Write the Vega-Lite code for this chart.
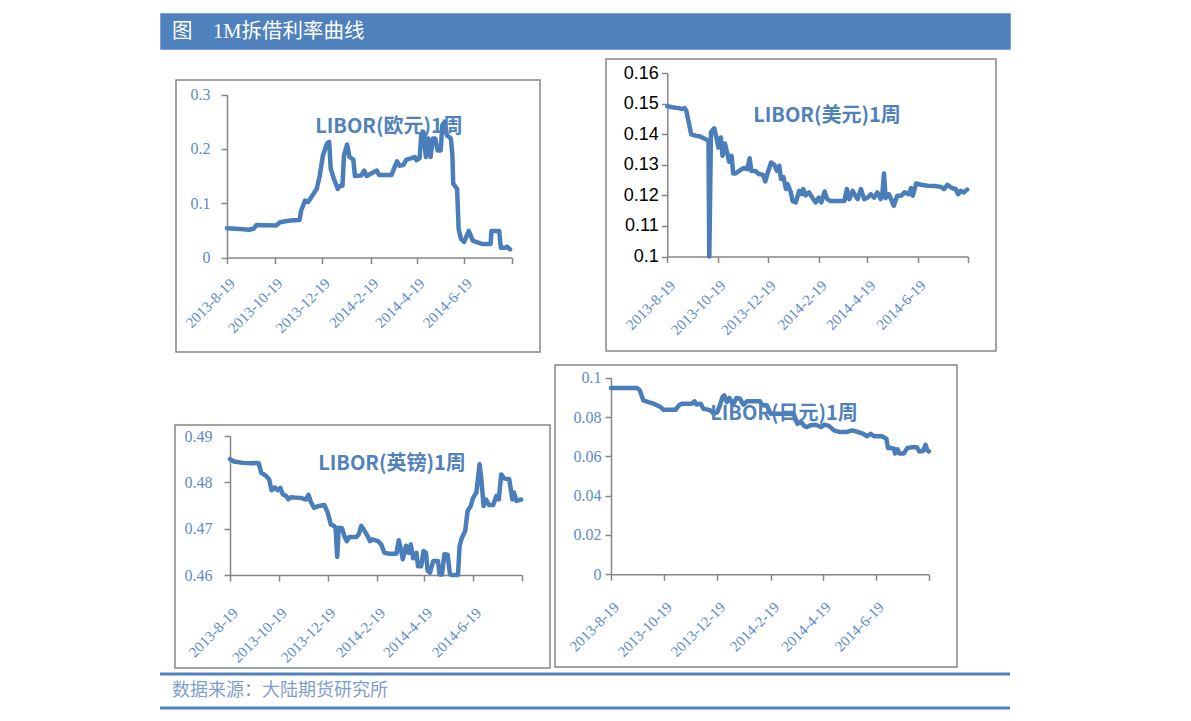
{
  "$schema": "https://vega.github.io/schema/vega-lite/v6.json",
  "background": "white",
  "padding": {"left": 158, "top": 12, "right": 5, "bottom": 5},
  "spacing": 0,
  "config": {
    "view": {"stroke": null},
    "concat": {"spacing": 0},
    "axis": {"domainColor": "#868686", "domainWidth": 1.5, "tickColor": "#868686", "tickWidth": 1.5, "tickSize": 6, "grid": false, "labelColor": "#5B8BD0", "labelFont": "Liberation Serif", "labelFontSize": 15}
  },
  "datasets": {
    "eur": [
      {"date": "2013-08-19", "rate": 0.054}, {"date": "2013-09-09", "rate": 0.052}, {"date": "2013-09-16", "rate": 0.051}, {"date": "2013-09-22", "rate": 0.053}, {"date": "2013-09-26", "rate": 0.060}, {"date": "2013-10-21", "rate": 0.059}, {"date": "2013-10-26", "rate": 0.065}, {"date": "2013-11-08", "rate": 0.068}, {"date": "2013-11-20", "rate": 0.069}, {"date": "2013-11-22", "rate": 0.086}, {"date": "2013-11-27", "rate": 0.105}, {"date": "2013-12-01", "rate": 0.102}, {"date": "2013-12-05", "rate": 0.111}, {"date": "2013-12-12", "rate": 0.126}, {"date": "2013-12-16", "rate": 0.151}, {"date": "2013-12-20", "rate": 0.188}, {"date": "2013-12-25", "rate": 0.209}, {"date": "2013-12-28", "rate": 0.213}, {"date": "2013-12-30", "rate": 0.163}, {"date": "2014-01-03", "rate": 0.145}, {"date": "2014-01-08", "rate": 0.126}, {"date": "2014-01-11", "rate": 0.132}, {"date": "2014-01-14", "rate": 0.132}, {"date": "2014-01-16", "rate": 0.188}, {"date": "2014-01-20", "rate": 0.208}, {"date": "2014-01-23", "rate": 0.185}, {"date": "2014-01-28", "rate": 0.180}, {"date": "2014-01-30", "rate": 0.150}, {"date": "2014-02-07", "rate": 0.151}, {"date": "2014-02-11", "rate": 0.160}, {"date": "2014-02-14", "rate": 0.150}, {"date": "2014-02-27", "rate": 0.160}, {"date": "2014-03-02", "rate": 0.152}, {"date": "2014-03-18", "rate": 0.152}, {"date": "2014-03-21", "rate": 0.163}, {"date": "2014-03-25", "rate": 0.177}, {"date": "2014-03-28", "rate": 0.169}, {"date": "2014-04-02", "rate": 0.170}, {"date": "2014-04-06", "rate": 0.180}, {"date": "2014-04-13", "rate": 0.183}, {"date": "2014-04-17", "rate": 0.185}, {"date": "2014-04-19", "rate": 0.179}, {"date": "2014-04-23", "rate": 0.183}, {"date": "2014-04-25", "rate": 0.225}, {"date": "2014-04-28", "rate": 0.231}, {"date": "2014-05-01", "rate": 0.185}, {"date": "2014-05-04", "rate": 0.219}, {"date": "2014-05-07", "rate": 0.185}, {"date": "2014-05-10", "rate": 0.219}, {"date": "2014-05-13", "rate": 0.219}, {"date": "2014-05-16", "rate": 0.197}, {"date": "2014-05-20", "rate": 0.197}, {"date": "2014-05-22", "rate": 0.243}, {"date": "2014-05-25", "rate": 0.250}, {"date": "2014-05-28", "rate": 0.225}, {"date": "2014-06-02", "rate": 0.219}, {"date": "2014-06-04", "rate": 0.188}, {"date": "2014-06-05", "rate": 0.136}, {"date": "2014-06-10", "rate": 0.126}, {"date": "2014-06-12", "rate": 0.052}, {"date": "2014-06-15", "rate": 0.034}, {"date": "2014-06-19", "rate": 0.029}, {"date": "2014-06-25", "rate": 0.049}, {"date": "2014-06-30", "rate": 0.031}, {"date": "2014-07-06", "rate": 0.028}, {"date": "2014-07-12", "rate": 0.025}, {"date": "2014-07-23", "rate": 0.025}, {"date": "2014-07-24", "rate": 0.049}, {"date": "2014-08-03", "rate": 0.049}, {"date": "2014-08-05", "rate": 0.018}, {"date": "2014-08-11", "rate": 0.018}, {"date": "2014-08-13", "rate": 0.020}, {"date": "2014-08-17", "rate": 0.015}
    ],
    "usd": [
      {"date": "2013-08-19", "rate": 0.1492}, {"date": "2013-08-25", "rate": 0.1489}, {"date": "2013-09-02", "rate": 0.1486}, {"date": "2013-09-06", "rate": 0.1483}, {"date": "2013-09-09", "rate": 0.1486}, {"date": "2013-09-11", "rate": 0.1478}, {"date": "2013-09-14", "rate": 0.1440}, {"date": "2013-09-17", "rate": 0.1400}, {"date": "2013-09-22", "rate": 0.1396}, {"date": "2013-09-28", "rate": 0.1393}, {"date": "2013-10-04", "rate": 0.1385}, {"date": "2013-10-08", "rate": 0.1380}, {"date": "2013-10-09", "rate": 0.1000}, {"date": "2013-10-11", "rate": 0.1407}, {"date": "2013-10-15", "rate": 0.1420}, {"date": "2013-10-18", "rate": 0.1385}, {"date": "2013-10-20", "rate": 0.1357}, {"date": "2013-10-23", "rate": 0.1390}, {"date": "2013-10-25", "rate": 0.1330}, {"date": "2013-10-28", "rate": 0.1370}, {"date": "2013-10-31", "rate": 0.1336}, {"date": "2013-11-02", "rate": 0.1310}, {"date": "2013-11-05", "rate": 0.1330}, {"date": "2013-11-07", "rate": 0.1272}, {"date": "2013-11-10", "rate": 0.1272}, {"date": "2013-11-14", "rate": 0.1280}, {"date": "2013-11-20", "rate": 0.1290}, {"date": "2013-11-24", "rate": 0.1286}, {"date": "2013-11-27", "rate": 0.1322}, {"date": "2013-11-29", "rate": 0.1280}, {"date": "2013-12-04", "rate": 0.1280}, {"date": "2013-12-08", "rate": 0.1270}, {"date": "2013-12-13", "rate": 0.1268}, {"date": "2013-12-16", "rate": 0.1246}, {"date": "2013-12-19", "rate": 0.1275}, {"date": "2013-12-23", "rate": 0.1308}, {"date": "2013-12-27", "rate": 0.1300}, {"date": "2013-12-30", "rate": 0.1280}, {"date": "2014-01-02", "rate": 0.1297}, {"date": "2014-01-04", "rate": 0.1254}, {"date": "2014-01-07", "rate": 0.1260}, {"date": "2014-01-10", "rate": 0.1221}, {"date": "2014-01-12", "rate": 0.1237}, {"date": "2014-01-16", "rate": 0.1210}, {"date": "2014-01-18", "rate": 0.1182}, {"date": "2014-01-22", "rate": 0.1177}, {"date": "2014-01-26", "rate": 0.1215}, {"date": "2014-01-29", "rate": 0.1204}, {"date": "2014-01-31", "rate": 0.1221}, {"date": "2014-02-03", "rate": 0.1200}, {"date": "2014-02-07", "rate": 0.1210}, {"date": "2014-02-11", "rate": 0.1193}, {"date": "2014-02-15", "rate": 0.1177}, {"date": "2014-02-19", "rate": 0.1193}, {"date": "2014-02-22", "rate": 0.1177}, {"date": "2014-02-26", "rate": 0.1213}, {"date": "2014-03-01", "rate": 0.1188}, {"date": "2014-03-05", "rate": 0.1182}, {"date": "2014-03-22", "rate": 0.1182}, {"date": "2014-03-25", "rate": 0.1221}, {"date": "2014-03-28", "rate": 0.1188}, {"date": "2014-04-01", "rate": 0.1215}, {"date": "2014-04-04", "rate": 0.1200}, {"date": "2014-04-07", "rate": 0.1188}, {"date": "2014-04-11", "rate": 0.1221}, {"date": "2014-04-15", "rate": 0.1188}, {"date": "2014-04-19", "rate": 0.1193}, {"date": "2014-04-23", "rate": 0.1204}, {"date": "2014-04-27", "rate": 0.1193}, {"date": "2014-05-01", "rate": 0.1210}, {"date": "2014-05-05", "rate": 0.1188}, {"date": "2014-05-07", "rate": 0.1204}, {"date": "2014-05-09", "rate": 0.1272}, {"date": "2014-05-11", "rate": 0.1191}, {"date": "2014-05-15", "rate": 0.1204}, {"date": "2014-05-21", "rate": 0.1166}, {"date": "2014-05-25", "rate": 0.1199}, {"date": "2014-05-30", "rate": 0.1199}, {"date": "2014-06-03", "rate": 0.1210}, {"date": "2014-06-08", "rate": 0.1204}, {"date": "2014-06-11", "rate": 0.1224}, {"date": "2014-06-13", "rate": 0.1199}, {"date": "2014-06-17", "rate": 0.1239}, {"date": "2014-06-23", "rate": 0.1235}, {"date": "2014-07-01", "rate": 0.1232}, {"date": "2014-07-09", "rate": 0.1231}, {"date": "2014-07-17", "rate": 0.1228}, {"date": "2014-07-21", "rate": 0.1221}, {"date": "2014-07-25", "rate": 0.1235}, {"date": "2014-07-30", "rate": 0.1225}, {"date": "2014-08-04", "rate": 0.1221}, {"date": "2014-08-07", "rate": 0.1204}, {"date": "2014-08-10", "rate": 0.1215}, {"date": "2014-08-14", "rate": 0.1210}, {"date": "2014-08-18", "rate": 0.1219}
    ],
    "gbp": [
      {"date": "2013-08-19", "rate": 0.4850}, {"date": "2013-08-24", "rate": 0.4845}, {"date": "2013-09-04", "rate": 0.4842}, {"date": "2013-09-14", "rate": 0.4841}, {"date": "2013-09-21", "rate": 0.4842}, {"date": "2013-09-24", "rate": 0.4841}, {"date": "2013-09-27", "rate": 0.4821}, {"date": "2013-10-03", "rate": 0.4814}, {"date": "2013-10-07", "rate": 0.4806}, {"date": "2013-10-10", "rate": 0.4783}, {"date": "2013-10-14", "rate": 0.4789}, {"date": "2013-10-18", "rate": 0.4783}, {"date": "2013-10-21", "rate": 0.4788}, {"date": "2013-10-24", "rate": 0.4774}, {"date": "2013-10-28", "rate": 0.4771}, {"date": "2013-10-31", "rate": 0.4763}, {"date": "2013-11-03", "rate": 0.4768}, {"date": "2013-11-09", "rate": 0.4767}, {"date": "2013-11-16", "rate": 0.4766}, {"date": "2013-11-22", "rate": 0.4763}, {"date": "2013-11-25", "rate": 0.4773}, {"date": "2013-11-28", "rate": 0.4758}, {"date": "2013-12-02", "rate": 0.4745}, {"date": "2013-12-08", "rate": 0.4749}, {"date": "2013-12-15", "rate": 0.4751}, {"date": "2013-12-19", "rate": 0.4735}, {"date": "2013-12-23", "rate": 0.4709}, {"date": "2013-12-27", "rate": 0.4706}, {"date": "2013-12-29", "rate": 0.4702}, {"date": "2013-12-31", "rate": 0.4639}, {"date": "2014-01-02", "rate": 0.4702}, {"date": "2014-01-06", "rate": 0.4701}, {"date": "2014-01-09", "rate": 0.4684}, {"date": "2014-01-12", "rate": 0.4673}, {"date": "2014-01-15", "rate": 0.4682}, {"date": "2014-01-24", "rate": 0.4682}, {"date": "2014-01-27", "rate": 0.4688}, {"date": "2014-01-30", "rate": 0.4706}, {"date": "2014-02-03", "rate": 0.4696}, {"date": "2014-02-07", "rate": 0.4684}, {"date": "2014-02-10", "rate": 0.4673}, {"date": "2014-02-13", "rate": 0.4677}, {"date": "2014-02-20", "rate": 0.4673}, {"date": "2014-02-24", "rate": 0.4666}, {"date": "2014-02-28", "rate": 0.4648}, {"date": "2014-03-06", "rate": 0.4646}, {"date": "2014-03-15", "rate": 0.4646}, {"date": "2014-03-18", "rate": 0.4675}, {"date": "2014-03-20", "rate": 0.4660}, {"date": "2014-03-23", "rate": 0.4634}, {"date": "2014-03-27", "rate": 0.4663}, {"date": "2014-03-30", "rate": 0.4648}, {"date": "2014-04-02", "rate": 0.4666}, {"date": "2014-04-05", "rate": 0.4636}, {"date": "2014-04-09", "rate": 0.4648}, {"date": "2014-04-11", "rate": 0.4619}, {"date": "2014-04-15", "rate": 0.4619}, {"date": "2014-04-18", "rate": 0.4652}, {"date": "2014-04-21", "rate": 0.4648}, {"date": "2014-04-23", "rate": 0.4609}, {"date": "2014-04-26", "rate": 0.4605}, {"date": "2014-04-30", "rate": 0.4630}, {"date": "2014-05-06", "rate": 0.4630}, {"date": "2014-05-08", "rate": 0.4601}, {"date": "2014-05-11", "rate": 0.4601}, {"date": "2014-05-14", "rate": 0.4645}, {"date": "2014-05-18", "rate": 0.4644}, {"date": "2014-05-21", "rate": 0.4601}, {"date": "2014-05-24", "rate": 0.4600}, {"date": "2014-05-31", "rate": 0.4600}, {"date": "2014-06-02", "rate": 0.4663}, {"date": "2014-06-05", "rate": 0.4681}, {"date": "2014-06-09", "rate": 0.4695}, {"date": "2014-06-12", "rate": 0.4738}, {"date": "2014-06-16", "rate": 0.4749}, {"date": "2014-06-19", "rate": 0.4767}, {"date": "2014-06-23", "rate": 0.4778}, {"date": "2014-06-27", "rate": 0.4839}, {"date": "2014-06-29", "rate": 0.4810}, {"date": "2014-07-02", "rate": 0.4749}, {"date": "2014-07-05", "rate": 0.4763}, {"date": "2014-07-09", "rate": 0.4751}, {"date": "2014-07-14", "rate": 0.4751}, {"date": "2014-07-18", "rate": 0.4771}, {"date": "2014-07-21", "rate": 0.4763}, {"date": "2014-07-24", "rate": 0.4817}, {"date": "2014-07-28", "rate": 0.4808}, {"date": "2014-08-03", "rate": 0.4807}, {"date": "2014-08-07", "rate": 0.4763}, {"date": "2014-08-09", "rate": 0.4778}, {"date": "2014-08-12", "rate": 0.4760}, {"date": "2014-08-18", "rate": 0.4763}
    ],
    "jpy": [
      {"date": "2013-08-19", "rate": 0.0947}, {"date": "2013-09-18", "rate": 0.0947}, {"date": "2013-09-21", "rate": 0.0936}, {"date": "2013-09-25", "rate": 0.0885}, {"date": "2013-10-01", "rate": 0.0876}, {"date": "2013-10-07", "rate": 0.0868}, {"date": "2013-10-11", "rate": 0.0859}, {"date": "2013-10-15", "rate": 0.0851}, {"date": "2013-10-18", "rate": 0.0837}, {"date": "2013-11-01", "rate": 0.0837}, {"date": "2013-11-05", "rate": 0.0859}, {"date": "2013-11-08", "rate": 0.0868}, {"date": "2013-11-20", "rate": 0.0868}, {"date": "2013-11-23", "rate": 0.0880}, {"date": "2013-11-25", "rate": 0.0864}, {"date": "2013-11-30", "rate": 0.0868}, {"date": "2013-12-03", "rate": 0.0842}, {"date": "2013-12-07", "rate": 0.0839}, {"date": "2013-12-11", "rate": 0.0834}, {"date": "2013-12-15", "rate": 0.0817}, {"date": "2013-12-19", "rate": 0.0825}, {"date": "2013-12-22", "rate": 0.0859}, {"date": "2013-12-25", "rate": 0.0902}, {"date": "2013-12-27", "rate": 0.0910}, {"date": "2013-12-30", "rate": 0.0876}, {"date": "2014-01-02", "rate": 0.0897}, {"date": "2014-01-06", "rate": 0.0863}, {"date": "2014-01-10", "rate": 0.0897}, {"date": "2014-01-14", "rate": 0.0893}, {"date": "2014-01-18", "rate": 0.0863}, {"date": "2014-01-22", "rate": 0.0880}, {"date": "2014-02-06", "rate": 0.0880}, {"date": "2014-02-08", "rate": 0.0863}, {"date": "2014-02-14", "rate": 0.0859}, {"date": "2014-02-18", "rate": 0.0817}, {"date": "2014-03-12", "rate": 0.0817}, {"date": "2014-03-17", "rate": 0.0812}, {"date": "2014-03-21", "rate": 0.0766}, {"date": "2014-03-25", "rate": 0.0775}, {"date": "2014-03-29", "rate": 0.0754}, {"date": "2014-04-01", "rate": 0.0749}, {"date": "2014-04-05", "rate": 0.0758}, {"date": "2014-04-11", "rate": 0.0761}, {"date": "2014-04-17", "rate": 0.0749}, {"date": "2014-04-21", "rate": 0.0761}, {"date": "2014-04-26", "rate": 0.0755}, {"date": "2014-05-02", "rate": 0.0732}, {"date": "2014-05-08", "rate": 0.0724}, {"date": "2014-05-17", "rate": 0.0724}, {"date": "2014-05-23", "rate": 0.0732}, {"date": "2014-05-29", "rate": 0.0724}, {"date": "2014-06-04", "rate": 0.0715}, {"date": "2014-06-09", "rate": 0.0702}, {"date": "2014-06-13", "rate": 0.0715}, {"date": "2014-06-17", "rate": 0.0702}, {"date": "2014-06-26", "rate": 0.0702}, {"date": "2014-07-01", "rate": 0.0690}, {"date": "2014-07-03", "rate": 0.0642}, {"date": "2014-07-07", "rate": 0.0642}, {"date": "2014-07-10", "rate": 0.0639}, {"date": "2014-07-11", "rate": 0.0614}, {"date": "2014-07-14", "rate": 0.0636}, {"date": "2014-07-16", "rate": 0.0614}, {"date": "2014-07-21", "rate": 0.0614}, {"date": "2014-07-25", "rate": 0.0642}, {"date": "2014-08-01", "rate": 0.0647}, {"date": "2014-08-05", "rate": 0.0646}, {"date": "2014-08-08", "rate": 0.0625}, {"date": "2014-08-12", "rate": 0.0627}, {"date": "2014-08-15", "rate": 0.0659}, {"date": "2014-08-17", "rate": 0.0630}, {"date": "2014-08-19", "rate": 0.0625}
    ]
  },
  "vconcat": [
    {
      "width": 850, "height": 36,
      "view": {"fill": "#4F81BD", "stroke": "#7FA3D1", "strokeWidth": 1},
      "title": {"text": "图　1M拆借利率曲线", "anchor": "start", "orient": "top", "offset": -39, "baseline": "middle", "dx": 12, "font": "Liberation Serif, Noto Sans CJK SC", "fontSize": 20.5, "fontWeight": "normal", "color": "white"},
      "data": {"values": []}, "mark": "point", "encoding": {}
    },
    {"width": 1, "height": 8, "data": {"values": []}, "mark": "point", "encoding": {}},
    {
      "hconcat": [
        {"width": 15, "height": 1, "data": {"values": []}, "mark": "point", "encoding": {}},
        {
          "vconcat": [
            {"width": 1, "height": 20, "data": {"values": []}, "mark": "point", "encoding": {}},
            {
              "width": 364, "height": 272,
              "view": {"stroke": "#878787", "strokeWidth": 1.5},
              "title": {"text": "LIBOR(欧元)1周", "anchor": "middle", "orient": "top", "offset": -67, "baseline": "middle", "dx": 31, "font": "Noto Sans CJK SC", "fontSize": 20, "fontWeight": "bold", "color": "#4F81BD"},
              "data": {"name": "eur"},
              "mark": {"type": "line", "color": "#4A7EBB", "strokeWidth": 4.5, "strokeJoin": "round", "strokeCap": "round"},
              "encoding": {
                "x": {"field": "date", "type": "temporal",
                  "scale": {"type": "utc", "domain": [{"year": 2013, "month": 8, "date": 19, "utc": true}, {"year": 2014, "month": 8, "date": 19, "utc": true}], "range": [51, 335.7]},
                  "axis": {"orient": "bottom", "offset": -94.5, "title": null, "values": [{"year": 2013, "month": 8, "date": 19, "utc": true}, {"year": 2013, "month": 10, "date": 19, "utc": true}, {"year": 2013, "month": 12, "date": 19, "utc": true}, {"year": 2014, "month": 2, "date": 19, "utc": true}, {"year": 2014, "month": 4, "date": 19, "utc": true}, {"year": 2014, "month": 6, "date": 19, "utc": true}, {"year": 2014, "month": 8, "date": 19, "utc": true}], "labelExpr": "time(datum.value) > utc(2014, 6, 1) ? '' : utcFormat(datum.value, '%Y-%-m-%-d')", "labelAngle": -45, "labelAlign": "right", "labelBaseline": "top", "labelPadding": 12, "labelOverlap": false, "labelFlush": false}},
                "y": {"field": "rate", "type": "quantitative",
                  "scale": {"domain": [0, 0.3], "range": [177.5, 14.5], "zero": false, "nice": false},
                  "axis": {"orient": "left", "offset": -51, "title": null, "values": [0, 0.1, 0.2, 0.3], "format": "~g", "labelPadding": 11, "labelFontSize": 16}}
              }
            }
          ]
        },
        {"width": 64, "height": 1, "data": {"values": []}, "mark": "point", "encoding": {}},
        {
          "width": 390, "height": 292,
          "view": {"stroke": "#878787", "strokeWidth": 1.5},
          "title": {"text": "LIBOR(美元)1周", "anchor": "middle", "orient": "top", "offset": -76.5, "baseline": "middle", "dx": 26, "font": "Noto Sans CJK SC", "fontSize": 20, "fontWeight": "bold", "color": "#4F81BD"},
          "data": {"name": "usd"},
          "mark": {"type": "line", "color": "#4A7EBB", "strokeWidth": 4.5, "strokeJoin": "round", "strokeCap": "round"},
          "encoding": {
            "x": {"field": "date", "type": "temporal",
              "scale": {"type": "utc", "domain": [{"year": 2013, "month": 8, "date": 19, "utc": true}, {"year": 2014, "month": 8, "date": 19, "utc": true}], "range": [61.3, 362]},
              "axis": {"orient": "bottom", "offset": -94.5, "title": null, "values": [{"year": 2013, "month": 8, "date": 19, "utc": true}, {"year": 2013, "month": 10, "date": 19, "utc": true}, {"year": 2013, "month": 12, "date": 19, "utc": true}, {"year": 2014, "month": 2, "date": 19, "utc": true}, {"year": 2014, "month": 4, "date": 19, "utc": true}, {"year": 2014, "month": 6, "date": 19, "utc": true}, {"year": 2014, "month": 8, "date": 19, "utc": true}], "labelExpr": "time(datum.value) > utc(2014, 6, 1) ? '' : utcFormat(datum.value, '%Y-%-m-%-d')", "labelAngle": -45, "labelAlign": "right", "labelBaseline": "top", "labelPadding": 15, "labelOverlap": false, "labelFlush": false}},
            "y": {"field": "rate", "type": "quantitative",
              "scale": {"domain": [0.1, 0.16], "range": [197.5, 14.3], "zero": false, "nice": false},
              "axis": {"orient": "left", "offset": -61.3, "title": null, "values": [0.1, 0.11, 0.12, 0.13, 0.14, 0.15, 0.16], "format": "~g", "labelPadding": 3, "labelFont": "Liberation Sans", "labelFontSize": 18, "labelColor": "#000000"}}
          }
        }
      ]
    },
    {"width": 1, "height": 11, "data": {"values": []}, "mark": "point", "encoding": {}},
    {
      "hconcat": [
        {"width": 14, "height": 1, "data": {"values": []}, "mark": "point", "encoding": {}},
        {
          "vconcat": [
            {"width": 1, "height": 59, "data": {"values": []}, "mark": "point", "encoding": {}},
            {
              "width": 375, "height": 243,
              "view": {"stroke": "#878787", "strokeWidth": 1.5},
              "title": {"text": "LIBOR(英镑)1周", "anchor": "middle", "orient": "top", "offset": -59, "baseline": "middle", "dx": 29.5, "font": "Noto Sans CJK SC", "fontSize": 20, "fontWeight": "bold", "color": "#4F81BD"},
              "data": {"name": "gbp"},
              "mark": {"type": "line", "color": "#4A7EBB", "strokeWidth": 4.5, "strokeJoin": "round", "strokeCap": "round"},
              "encoding": {
                "x": {"field": "date", "type": "temporal",
                  "scale": {"type": "utc", "domain": [{"year": 2013, "month": 8, "date": 19, "utc": true}, {"year": 2014, "month": 8, "date": 19, "utc": true}], "range": [55, 347]},
                  "axis": {"orient": "bottom", "offset": -93, "title": null, "values": [{"year": 2013, "month": 8, "date": 19, "utc": true}, {"year": 2013, "month": 10, "date": 19, "utc": true}, {"year": 2013, "month": 12, "date": 19, "utc": true}, {"year": 2014, "month": 2, "date": 19, "utc": true}, {"year": 2014, "month": 4, "date": 19, "utc": true}, {"year": 2014, "month": 6, "date": 19, "utc": true}, {"year": 2014, "month": 8, "date": 19, "utc": true}], "labelExpr": "time(datum.value) > utc(2014, 6, 1) ? '' : utcFormat(datum.value, '%Y-%-m-%-d')", "labelAngle": -45, "labelAlign": "right", "labelBaseline": "top", "labelPadding": 24, "labelOverlap": false, "labelFlush": false}},
                "y": {"field": "rate", "type": "quantitative",
                  "scale": {"domain": [0.46, 0.49], "range": [150, 11], "zero": false, "nice": false},
                  "axis": {"orient": "left", "offset": -55, "title": null, "values": [0.46, 0.47, 0.48, 0.49], "format": "~g", "labelPadding": 12, "labelFontSize": 16}}
              }
            }
          ]
        },
        {"width": 3, "height": 1, "data": {"values": []}, "mark": "point", "encoding": {}},
        {
          "width": 402, "height": 302,
          "view": {"stroke": "#878787", "strokeWidth": 1.5},
          "title": {"text": "LIBOR(日元)1周", "anchor": "middle", "orient": "top", "offset": -68.5, "baseline": "middle", "dx": 28, "font": "Noto Sans CJK SC", "fontSize": 20, "fontWeight": "bold", "color": "#4F81BD"},
          "data": {"name": "jpy"},
          "mark": {"type": "line", "color": "#4A7EBB", "strokeWidth": 4.5, "strokeJoin": "round", "strokeCap": "round"},
          "encoding": {
            "x": {"field": "date", "type": "temporal",
              "scale": {"type": "utc", "domain": [{"year": 2013, "month": 8, "date": 19, "utc": true}, {"year": 2014, "month": 8, "date": 19, "utc": true}], "range": [56, 374]},
              "axis": {"orient": "bottom", "offset": -92.7, "title": null, "values": [{"year": 2013, "month": 8, "date": 19, "utc": true}, {"year": 2013, "month": 10, "date": 19, "utc": true}, {"year": 2013, "month": 12, "date": 19, "utc": true}, {"year": 2014, "month": 2, "date": 19, "utc": true}, {"year": 2014, "month": 4, "date": 19, "utc": true}, {"year": 2014, "month": 6, "date": 19, "utc": true}, {"year": 2014, "month": 8, "date": 19, "utc": true}], "labelExpr": "time(datum.value) > utc(2014, 6, 1) ? '' : utcFormat(datum.value, '%Y-%-m-%-d')", "labelAngle": -45, "labelAlign": "right", "labelBaseline": "top", "labelPadding": 19, "labelOverlap": false, "labelFlush": false}},
            "y": {"field": "rate", "type": "quantitative",
              "scale": {"domain": [0, 0.1], "range": [209.3, 12.7], "zero": false, "nice": false},
              "axis": {"orient": "left", "offset": -56, "title": null, "values": [0, 0.02, 0.04, 0.06, 0.08, 0.1], "format": "~g", "labelPadding": 4, "labelFontSize": 16}}
          }
        }
      ]
    },
    {"width": 1, "height": 3, "data": {"values": []}, "mark": "point", "encoding": {}},
    {
      "width": 850, "height": 34,
      "view": {"stroke": "#4F81BD", "strokeWidth": 3, "strokeDash": [850, 34]},
      "title": {"text": "数据来源：大陆期货研究所", "anchor": "start", "orient": "top", "offset": -35, "baseline": "middle", "dx": 12, "font": "Noto Sans CJK SC", "fontSize": 18, "fontWeight": "normal", "color": "#7F9ED0"},
      "data": {"values": []}, "mark": "point", "encoding": {}
    }
  ]
}
